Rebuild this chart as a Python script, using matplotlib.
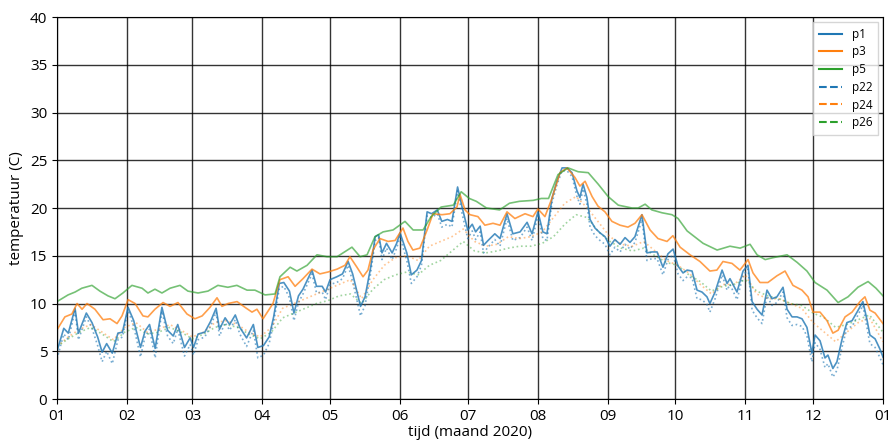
import matplotlib
matplotlib.use("Agg")
import matplotlib.pyplot as plt
import matplotlib.dates as mdates
from matplotlib.lines import Line2D
import pandas as pd

plt.rcParams['font.family'] = ['Open Sans', 'DejaVu Sans']

# day of year (2020) and temperature per sensor
days_p1 = [0, 3, 5, 8, 9.5, 13, 15.5, 18, 20, 22, 24.5, 27, 29, 31.5, 34, 37, 39, 41, 43.5,
           46.5, 49, 51.5, 53.5, 56.5, 59, 60.5, 62.5, 65.5, 68, 70.5, 72, 74.5, 76.5, 79, 81,
           84, 87, 89, 91.5, 94, 96, 98.5, 100.5, 103, 105, 107, 109, 113, 115, 117.5, 119,
           121, 124, 126.5, 129, 131, 134.5, 136.5, 139, 141, 142.5, 144, 146, 148.5, 150.5,
           152, 155, 157, 159.5, 161.5, 164, 166, 168.5, 170.5, 173, 175, 177.5, 179.5, 182,
           184, 185.5, 187.5, 189, 191, 194, 196.3, 199.4, 202, 205.2, 208.3, 210.5, 213.1,
           215.3, 217.1, 219.3, 221.5, 223.8, 226, 228.2, 230.4, 231.7, 233.1, 234.8, 236.2,
           238.4, 240.6, 242.8, 245, 247.2, 249.5, 251.7, 253.9, 256.1, 259.2, 261.4, 263.6,
           265.9, 268.5, 270.7, 273, 275.2, 277.4, 279.2, 281.4, 283.6, 285.8, 288, 289.3,
           291.6, 294.7, 296.9, 298.2, 301.3, 304, 306.2, 308, 310.2, 312.4, 314.6, 316.8,
           319, 321.7, 323.5, 325.7, 327.9, 330.1, 332.3, 334.5, 335.9, 338.1, 340.3, 341.6,
           343.8, 345.6, 347.8, 350, 352.3, 354.5, 357.1, 358.9, 360.2, 362.5, 364.7, 366]
p1 = [5.0, 7.4, 6.9, 9.5, 6.9, 9.0, 8.0, 6.5, 4.9, 5.8, 4.8, 6.9, 7.0, 9.6, 8.2, 5.4, 7.1, 7.8, 5.3,
      9.6, 7.2, 6.6, 7.8, 5.4, 6.4, 5.4, 6.8, 7.0, 8.1, 9.5, 7.3, 8.5, 7.8, 8.8, 7.5,
      6.4, 7.8, 5.4, 5.6, 6.5, 8.6, 12.1, 12.2, 11.3, 9.0, 10.8, 11.5, 13.5, 11.8, 11.8, 11.2,
      12.5, 12.8, 13.1, 14.4, 13.1, 9.7, 10.7, 13.8, 17.0, 17.2, 15.3, 16.3, 15.3, 16.3,
      17.4, 15.3, 13.0, 13.5, 14.5, 19.6, 19.4, 19.8, 18.6, 18.8, 18.6, 22.2, 20.1, 17.7,
      18.3, 17.5, 18.1, 16.1, 16.6, 17.3, 16.8, 19.4, 17.3, 17.5, 18.5, 17.3, 19.6,
      17.5, 17.3, 21.0, 22.8, 24.2, 24.2, 23.7, 21.8, 21.1, 22.5, 21.1, 18.8,
      17.9, 17.4, 17.0, 16.0, 16.7, 16.2, 16.9, 16.4, 17.0, 19.3, 15.3, 15.4,
      15.4, 13.8, 15.2, 15.7, 13.9, 13.2, 13.5, 13.4, 11.4, 11.2, 10.7, 10.0,
      11.2, 13.5, 12.1, 12.6, 11.2, 13.4, 14.0, 10.2, 9.4, 8.8, 11.4, 10.5,
      10.7, 11.7, 9.4, 8.6, 8.6, 8.4, 7.5, 4.8, 6.7, 6.1, 4.3, 4.6,
      3.2, 3.9, 6.2, 8.0, 8.2, 9.1, 10.2, 8.3, 6.7, 6.3, 5.2, 4.4]
p22 = [4.2, 6.8, 6.2, 9.2, 6.2, 8.6, 7.4, 5.6, 3.9, 5.0, 3.7, 6.2, 6.5, 9.3, 7.6, 4.4, 6.5, 7.3, 4.3,
       9.2, 6.6, 5.8, 7.3, 4.5, 5.7, 4.6, 6.2, 6.5, 7.6, 9.1, 6.6, 8.0, 7.2, 8.3, 6.8,
       5.5, 7.2, 4.3, 4.6, 5.8, 8.0, 11.6, 11.8, 10.6, 8.2, 10.1, 11.0, 13.1, 11.1, 11.2, 10.4,
       12.0, 12.2, 12.6, 14.0, 12.3, 8.7, 9.8, 13.2, 16.6, 16.9, 14.6, 15.8, 14.6, 15.8,
       17.0, 14.5, 12.1, 12.8, 14.0, 19.2, 19.0, 19.4, 18.0, 18.3, 18.0, 21.8, 19.4, 16.8,
       17.6, 16.7, 17.5, 15.3, 15.9, 16.7, 16.0, 18.9, 16.6, 16.9, 18.0, 16.6, 19.2,
       16.8, 16.6, 20.5, 22.4, 23.9, 23.9, 23.3, 21.2, 20.4, 22.0, 20.4, 18.0,
       17.1, 16.6, 16.2, 15.1, 15.9, 15.4, 16.2, 15.7, 16.4, 18.8, 14.5, 14.7,
       14.7, 13.0, 14.6, 15.1, 13.1, 12.4, 12.8, 12.7, 10.5, 10.4, 9.9, 9.1,
       10.5, 13.0, 11.4, 12.0, 10.4, 12.9, 13.6, 9.3, 8.5, 7.9, 10.8, 9.8,
       10.1, 11.2, 8.5, 7.7, 7.8, 7.6, 6.6, 3.9, 5.9, 5.2, 3.3, 3.7,
       2.3, 3.0, 5.4, 7.4, 7.6, 8.6, 9.8, 7.5, 5.8, 5.4, 4.3, 3.6]

days_p3 = [0.4, 3.5, 6.6, 8.9, 11.1, 13.3, 16.8, 20.4, 23.5, 26.6,
           28.8, 31.5, 34.6, 38.1, 40.3, 43.4, 47.0, 50.1, 53.6, 57.6,
           61.1, 64.3, 67.8, 70.9, 73.1, 75.8, 79.8, 83.3, 86.4, 88.6,
           91.3, 95.7, 98.8, 102.4, 105.5, 109, 113, 116.5, 120.1, 124.1,
           127.6, 129.8, 132.9, 135.6, 137.8, 140, 143.1, 146.7, 149.8, 153.3,
           155.5, 157.7, 160.8, 164, 166.6, 170.6, 174.1, 177.2, 178.6, 180.8,
           183, 186.5, 189.6, 193.2, 196.3, 199.4, 202.9, 207.4, 210.9, 213.1,
           216.2, 219.3, 222.9, 226, 229.5, 231.7, 234, 237.1, 239.7, 242.8,
           245.9, 249.5, 253, 256.1, 259.2, 262.8, 266.3, 270.3, 272.9, 276.1,
           280.5, 284.9, 289.3, 292.4, 295.1, 299.1, 302.6, 306.2, 308.4, 311.5,
           315, 319, 322.6, 326.1, 330.1, 332.8, 335, 338.1, 341.2, 343.8,
           346.1, 349.2, 352.3, 355.8, 358, 360.2, 362.5, 366]
p3 = [7.4, 8.6, 8.9, 10.0, 9.4, 10.0, 9.4, 8.3, 8.4, 7.9,
      8.7, 10.4, 10.0, 8.7, 8.6, 9.4, 10.1, 9.7, 10.1, 8.9,
      8.4, 8.7, 9.6, 10.6, 9.7, 10.0, 10.2, 9.6, 9.1, 9.4,
      8.4, 10.0, 12.5, 12.8, 11.8, 12.6, 13.6, 13.1, 13.3, 13.6,
      14.0, 14.9, 13.8, 12.8, 13.5, 15.6, 16.8, 16.5, 16.6, 17.9,
      16.5, 15.6, 15.8, 17.7, 19.4, 19.3, 19.4, 20.1, 21.4, 19.8,
      19.3, 19.1, 18.2, 18.4, 18.2, 19.6, 18.9, 19.4, 19.1, 19.9,
      19.1, 21.0, 23.7, 24.2, 23.2, 22.3, 22.8, 21.2, 20.2, 19.6,
      18.6, 18.2, 18.0, 18.4, 19.3, 17.7, 16.8, 16.5, 17.1, 15.9,
      15.1, 14.4, 13.4, 13.5, 14.4, 14.2, 13.5, 14.6, 13.2, 12.2,
      12.2, 12.9, 13.4, 11.9, 11.4, 10.7, 9.1, 9.1, 8.2, 6.9,
      7.2, 8.6, 9.1, 10.2, 10.7, 9.3, 9.0, 7.9]

days_p5 = [0, 4.9, 8, 11, 15.5, 19, 22.6, 25.7, 29.2, 33.2, 37.7, 40.3, 43.4, 46.5, 50.1, 54.5,
           58, 62.5, 66.9, 71.3, 75.7, 79.7, 84.2, 87.7, 92.2, 96.6, 98.8, 103.3, 106.3, 110.8,
           115.2, 119.6, 124.1, 130.7, 134.3, 137.4, 140.9, 144.5, 148.9, 154.2, 157.8, 162.2,
           165.8, 170.2, 175.6, 179.1, 182.7, 185.8, 190.3, 196.1, 200.5, 204.9, 211, 214.6,
           217.8, 222, 226.5, 230.9, 235.4, 239.8, 244.2, 248.7, 254.8, 257.5, 260.6, 263.6,
           268.1, 272.5, 275.2, 279.2, 286.3, 292.5, 298.2, 302.7, 307.1, 310.2, 313.8, 317.3,
           323.5, 328, 332.3, 335.9, 341.2, 346.1, 350.5, 354.9, 359.4, 362.9, 366]
p5 = [10.2, 10.9, 11.2, 11.6, 11.9, 11.3, 10.8, 10.5, 11.1, 11.9, 11.6, 11.1, 11.5, 11.1, 11.6, 11.9,
      11.3, 11.1, 11.3, 11.9, 11.7, 11.9, 11.4, 11.4, 10.9, 11.0, 12.8, 13.8, 13.4, 14.0,
      15.1, 14.9, 14.9, 15.9, 14.9, 15.1, 17.0, 17.5, 17.7, 18.6, 17.7, 17.7,
      19.1, 20.1, 20.3, 21.7, 21.0, 20.7, 20.0, 19.8, 20.5, 20.7, 20.8, 21.0,
      21.0, 23.5, 24.2, 23.8, 23.7, 22.5, 21.2, 20.3, 20.0, 20.0, 20.4, 19.8,
      19.5, 19.3, 18.9, 17.6, 16.3, 15.6, 16.0, 15.8, 16.2, 15.1, 14.6, 14.8,
      15.1, 14.3, 13.4, 12.2, 11.4, 10.1, 10.7, 11.7, 12.3, 11.6, 10.8]

days_dot = [0, 5, 10, 15, 20, 25, 30, 35, 40, 45, 50, 55, 60, 65, 70, 75, 80, 85, 90, 95, 100,
            105, 110, 115, 120, 125, 130, 135, 140, 145, 150, 155, 160, 165, 170, 175, 180, 185,
            190, 195, 200, 205, 210, 215, 220, 225, 230, 235, 240, 245, 250, 255, 260, 265, 270,
            275, 280, 285, 290, 295, 300, 305, 310, 315, 320, 325, 330, 335, 340, 345, 350, 355,
            360, 366]
p24 = [5.5, 6.5, 7.3, 7.8, 7.0, 6.2, 7.5, 8.0, 7.0, 7.3, 7.8, 7.2, 6.5, 7.0, 8.0, 8.2, 7.8, 7.0,
       6.5, 7.5, 9.5, 10.0, 10.5, 11.0, 11.5, 12.0, 12.5, 10.5, 12.5, 14.0, 14.8, 15.0, 14.5,
       16.0, 16.5, 17.0, 17.8, 16.5, 16.0, 16.2, 17.0, 16.8, 17.0, 17.5, 19.0, 20.5, 21.2,
       20.0, 18.5, 17.0, 16.2, 16.0, 16.5, 15.5, 14.5, 14.0, 13.2, 12.0, 11.0, 12.0, 12.0,
       13.0, 11.0, 10.5, 10.5, 10.0, 9.5, 8.0, 7.0, 6.0, 7.0, 8.0, 8.5, 6.0]
p26 = [5.5, 6.3, 7.0, 7.5, 6.8, 6.0, 7.0, 7.5, 6.8, 7.0, 7.5, 7.0, 6.3, 6.8, 7.5, 7.8, 7.5, 6.8,
       6.3, 7.0, 8.5, 9.0, 9.5, 10.0, 10.3, 10.8, 11.0, 10.0, 11.5, 12.5, 13.0, 13.3, 13.0,
       14.0, 14.5, 15.5, 16.5, 15.5, 15.3, 15.5, 15.8, 16.0, 16.0, 16.3, 17.0, 18.3, 19.3,
       19.0, 17.5, 16.5, 15.8, 15.5, 15.8, 15.0, 14.3, 14.0, 13.0, 12.3, 11.3, 11.8, 12.0,
       12.5, 11.3, 10.8, 10.5, 10.0, 9.8, 9.0, 8.5, 7.5, 7.8, 8.3, 8.8, 7.0]

start = pd.Timestamp('2020-01-01')
def to_dates(d):
    return start + pd.to_timedelta(d, unit='D')

fig = plt.figure(figsize=(8.92, 4.43), dpi=100)
ax = fig.add_axes([0.0639, 0.0993, 0.9260, 0.8623])

ax.plot(to_dates(days_p1), p22, color='C0', linestyle=':', linewidth=1.2, alpha=0.6)
ax.plot(to_dates(days_dot), p24, color='C1', linestyle=':', linewidth=1.2, alpha=0.45)
ax.plot(to_dates(days_dot), p26, color='C2', linestyle=':', linewidth=1.2, alpha=0.45)
ax.plot(to_dates(days_p1), p1, color='C0', linewidth=1.2, alpha=0.8)
ax.plot(to_dates(days_p3), p3, color='C1', linewidth=1.2, alpha=0.75)
ax.plot(to_dates(days_p5), p5, color='C2', linewidth=1.2, alpha=0.65)

ax.set_xlim(start, pd.Timestamp('2021-01-01'))
ax.set_ylim(0, 40)
ax.xaxis.set_major_locator(mdates.MonthLocator())
ax.xaxis.set_major_formatter(mdates.DateFormatter('%m'))
ax.set_yticks(range(0, 41, 5))
ax.tick_params(labelsize=11)
ax.grid(color='k', linewidth=1.0, alpha=0.8)
ax.set_ylabel('temperatuur (C)', fontsize=11)
ax.set_xlabel('tijd (maand 2020)', fontsize=11, labelpad=1)

handles = [Line2D([], [], color='C0', linestyle='-'),
           Line2D([], [], color='C1', linestyle='-'),
           Line2D([], [], color='C2', linestyle='-'),
           Line2D([], [], color='C0', linestyle='--'),
           Line2D([], [], color='C1', linestyle='--'),
           Line2D([], [], color='C2', linestyle='--')]
ax.legend(handles, ['p1', 'p3', 'p5', 'p22', 'p24', 'p26'], loc='upper right',
          fontsize=8.5, handlelength=2.0, borderpad=0.45, labelspacing=0.4,
          borderaxespad=0.45, fancybox=False, framealpha=0.8)

plt.savefig('out.png', dpi=100)
